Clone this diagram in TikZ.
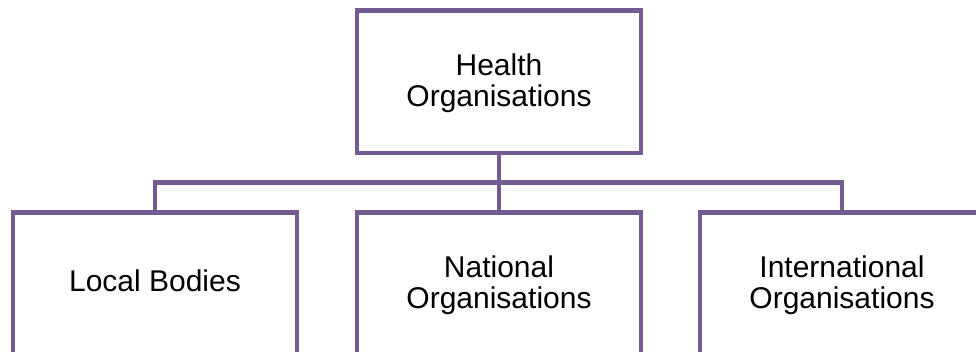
\documentclass[tikz,border=0pt]{standalone}
\usepackage{fontspec}
\setmainfont{Liberation Sans}
\definecolor{orgline}{RGB}{116,91,146}
\begin{document}
\begin{tikzpicture}[x=0.75pt,y=-0.75pt,
  orgbox/.style={draw=orgline, line width=3.4pt, fill=white, rectangle,
    minimum width=213pt, outer sep=0pt, inner sep=0pt, line join=miter},
  conn/.style={draw=orgline, line width=3.4pt, line join=miter},
  lbl/.style={align=center, text=black, inner sep=0pt,
    font=\fontsize{22.5pt}{23.25pt}\selectfont}]
\useasboundingbox (0,0) rectangle (976,352);
\clip (0,0) rectangle (976,352);
\fill[white] (0,0) rectangle (976,352);
% boxes
\node[orgbox, minimum height=106.875pt] (top) at (499,81.75) {};
\node[orgbox, minimum height=110.6pt] (b1) at (155,286.25) {};
\node[orgbox, minimum height=110.6pt] (b2) at (499,286.25) {};
\node[orgbox, minimum height=110.6pt] (b3) at (842,286.25) {};
% connectors
\coordinate (bus) at (499,182.5);
\draw[conn] (top.south) -- (b2.north);
\draw[conn] (b1.north) |- (bus) -| (b3.north);
% labels
\node[lbl] (ttop) at (499,83.5) {Health\\Organisations};
\node[lbl] (t1) at (155,281) {Local Bodies};
\node[lbl] (t2) at (499,285.5) {National\\Organisations};
\node[lbl] (t3) at (842,285.5) {International\\Organisations};
\end{tikzpicture}
\end{document}
